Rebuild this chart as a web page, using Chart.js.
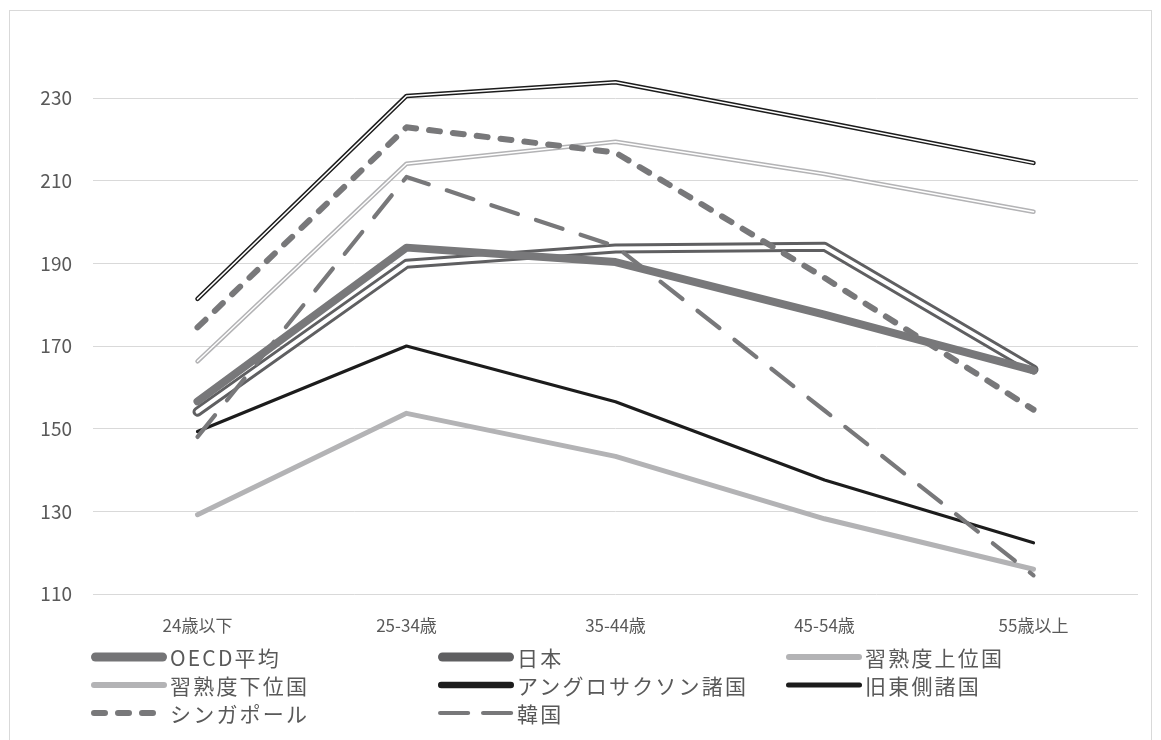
<!DOCTYPE html>
<html>
<head>
<meta charset="utf-8">
<script src="https://cdn.jsdelivr.net/npm/chart.js@4.4.1/dist/chart.umd.min.js"></script>
<style>
  html, body { margin: 0; padding: 0; background: #fff; }
  #wrap { position: relative; width: 1161px; height: 740px; overflow: hidden; }
  #frame { position: absolute; left: 9px; top: 10px; width: 1143px; height: 780px;
           border: 1.5px solid #d9d9d9; box-sizing: border-box; }
  #chart { position: absolute; left: 0; top: 0; }
  #legend { position: absolute; left: 0; top: 0; width: 1161px; height: 740px; pointer-events: none;
            font-family: "Noto Sans CJK JP", "Noto Sans", sans-serif; color: #595959; }
  .item { position: absolute; height: 28px; display: flex; align-items: center; white-space: nowrap; }
  .item svg { flex: none; }
  .item span { font-size: 21px; letter-spacing: 2.2px; margin-left: 2px; }
</style>
</head>
<body>
<div id="wrap">
  <div id="frame"></div>
  <canvas id="chart" width="1161" height="740"></canvas>
  <div id="legend"></div>
</div>
<script>
// Age groups on the horizontal axis
const ageGroups = ['24歳以下', '25-34歳', '35-44歳', '45-54歳', '55歳以上'];
const yTicks = [110, 130, 150, 170, 190, 210, 230];

// Scores by age group
const oecdAvg     = [156.6, 193.8, 190.3, 177.6, 164.1];
const japan       = [154.1, 189.9, 193.6, 194.0, 164.3];
const topGroup    = [166.3, 214.1, 219.4, 211.6, 202.5];
const bottomGroup = [129.2, 153.7, 143.3, 128.2, 116.0];
const anglo       = [181.4, 230.5, 233.8, 224.2, 214.3];
const eastBloc    = [149.3, 170.0, 156.5, 137.6, 122.4];
const singapore   = [174.5, 222.9, 216.8, 186.5, 154.6];
const korea       = [148.0, 210.9, 194.1, 154.4, 114.5];

const seriesNames = ['OECD平均', '日本', '習熟度上位国', '習熟度下位国',
                     'アングロサクソン諸国', '旧東側諸国', 'シンガポール', '韓国'];

const FONT = '"Noto Sans CJK JP", "Noto Sans", sans-serif';
const GRAY = '#78787a', DARK = '#5f5f61', LIGHT = '#b3b3b5', BLACK = '#1c1c1c';

// Line styles; "inner" draws a white core over the stroke to give a double line
const styles = {
  'OECD平均':           { color: GRAY,  width: 8,   order: 2 },
  '日本':               { color: DARK,  width: 10,  inner: 4,   order: 4 },
  '習熟度上位国':       { color: LIGHT, width: 4.5, inner: 1.5, order: 6 },
  '習熟度下位国':       { color: LIGHT, width: 5,   order: 10 },
  'アングロサクソン諸国': { color: BLACK, width: 4.5, inner: 1.5, order: 8 },
  '旧東側諸国':         { color: BLACK, width: 3.2, order: 9 },
  'シンガポール':       { color: GRAY,  width: 6,   dash: [11, 13], order: 1 },
  '韓国':               { color: GRAY,  width: 4.2, dash: [28, 19], order: 0 }
};

// Legend swatch styles
const swatches = {
  'OECD平均':           { color: '#747476', width: 9 },
  '日本':               { color: DARK,      width: 9 },
  '習熟度上位国':       { color: LIGHT,     width: 6 },
  '習熟度下位国':       { color: LIGHT,     width: 6 },
  'アングロサクソン諸国': { color: BLACK,     width: 6.5 },
  '旧東側諸国':         { color: BLACK,     width: 5 },
  'シンガポール':       { color: GRAY,      width: 6, dash: '11 13' },
  '韓国':               { color: GRAY,      width: 4.2, dash: '28 15' }
};

const seriesData = [oecdAvg, japan, topGroup, bottomGroup, anglo, eastBloc, singapore, korea];

const datasets = [];
seriesNames.forEach((name, i) => {
  const s = styles[name];
  const base = {
    label: name,
    data: seriesData[i],
    borderColor: s.color,
    backgroundColor: s.color,
    borderWidth: s.width,
    borderDash: s.dash || [],
    borderCapStyle: 'round',
    borderJoinStyle: 'round',
    pointRadius: 0,
    tension: 0,
    fill: false,
    clip: false,
    order: s.order
  };
  datasets.push(base);
  if (s.inner) {
    datasets.push(Object.assign({}, base, {
      label: name + ' (core)',
      borderColor: '#ffffff',
      backgroundColor: '#ffffff',
      borderWidth: s.inner,
      order: s.order - 0.5
    }));
  }
});

new Chart(document.getElementById('chart'), {
  type: 'line',
  data: { labels: ageGroups, datasets },
  options: {
    responsive: false,
    animation: false,
    events: [],
    layout: { padding: { top: 98, right: 23, bottom: 96, left: 0 } },
    plugins: { legend: { display: false }, tooltip: { enabled: false } },
    scales: {
      x: {
        offset: true,
        grid: { display: false, drawTicks: false },
        border: { display: false },
        ticks: { color: '#595959', font: { family: FONT, size: 17 }, padding: 21, maxRotation: 0 },
        afterFit(scale) { scale.height = 50; }
      },
      y: {
        min: yTicks[0],
        max: yTicks[yTicks.length - 1],
        afterBuildTicks(scale) { scale.ticks = yTicks.map(v => ({ value: v })); },
        grid: { color: '#d9d9d9', lineWidth: 1, drawTicks: false },
        border: { display: false },
        ticks: { color: '#595959', font: { family: FONT, size: 19 }, padding: 21 },
        afterFit(scale) { scale.width = 93; }
      }
    }
  }
});

// Legend laid out in three columns
const legend = document.getElementById('legend');
const colX = [91, 438, 786];
const rowY = [643, 671, 699];
seriesNames.forEach((name, i) => {
  const sw = swatches[name];
  const item = document.createElement('div');
  item.className = 'item';
  item.style.left = colX[i % 3] + 'px';
  item.style.top = rowY[Math.floor(i / 3)] + 'px';
  const half = sw.width / 2;
  const dash = sw.dash ? ` stroke-dasharray="${sw.dash}"` : '';
  item.innerHTML =
    `<svg width="77" height="28"><line x1="${half}" y1="14" x2="${76 - half}" y2="14" stroke="${sw.color}"` +
    ` stroke-width="${sw.width}" stroke-linecap="round"${dash}/></svg><span>${name}</span>`;
  legend.appendChild(item);
});
</script>
</body>
</html>
